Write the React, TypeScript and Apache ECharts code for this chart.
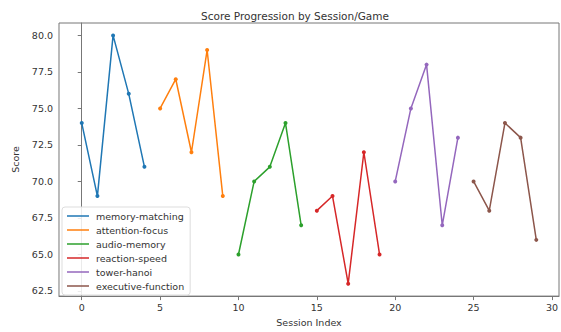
import React, { useEffect, useRef } from "react";
import * as echarts from "echarts";

const seriesNames = [
  "memory-matching",
  "attention-focus",
  "audio-memory",
  "reaction-speed",
  "tower-hanoi",
  "executive-function",
];
const sessionIdx = [
  [0, 1, 2, 3, 4],
  [5, 6, 7, 8, 9],
  [10, 11, 12, 13, 14],
  [15, 16, 17, 18, 19],
  [20, 21, 22, 23, 24],
  [25, 26, 27, 28, 29],
];
const scores = [
  [74, 69, 80, 76, 71],
  [75, 77, 72, 79, 69],
  [65, 70, 71, 74, 67],
  [68, 69, 63, 72, 65],
  [70, 75, 78, 67, 73],
  [70, 68, 74, 73, 66],
];
const colors = ["#1f77b4", "#ff7f0e", "#2ca02c", "#d62728", "#9467bd", "#8c564b"];
const xTicks = [0, 5, 10, 15, 20, 25, 30];
const yTicks = [62.5, 65, 67.5, 70, 72.5, 75, 77.5, 80];

export default function App() {
  const ref = useRef<HTMLDivElement>(null);
  useEffect(() => {
    document.body.style.margin = "0";
    const chart = echarts.init(ref.current!, null, { renderer: "svg" });
    const font = "DejaVu Sans";
    const spine = "#777";
    const axisCommon = {
      axisLine: { show: true, lineStyle: { color: spine, width: 1 } },
      axisTick: { show: true, inside: false, length: 4, lineStyle: { color: spine } },
      splitLine: { show: false },
    };
    chart.setOption({
      animation: false,
      backgroundColor: "#fff",
      title: {
        text: "Score Progression by Session/Game",
        left: 290,
        textAlign: "center",
        top: 5,
        textStyle: { fontFamily: font, fontSize: 10.5, fontWeight: "normal", color: "#333" },
      },
      grid: {
        left: 59,
        top: 23,
        right: -2,
        bottom: 29,
        containLabel: false,
        show: true,
        borderColor: spine,
        borderWidth: 1,
        backgroundColor: "transparent",
      },
      xAxis: {
        type: "value",
        min: -1.45,
        max: 30.45,
        name: "Session Index",
        nameLocation: "middle",
        nameGap: 20,
        nameTextStyle: { fontFamily: font, fontSize: 9.5, color: "#333" },
        ...axisCommon,
        axisTick: { ...axisCommon.axisTick, customValues: xTicks },
        axisLabel: { customValues: xTicks, fontFamily: font, fontSize: 9.5, color: "#333", margin: 6 },
      },
      yAxis: {
        type: "value",
        min: 62.15,
        max: 80.85,
        name: "Score",
        nameLocation: "middle",
        nameGap: 30,
        nameTextStyle: { fontFamily: font, fontSize: 9.5, color: "#333" },
        ...axisCommon,
        axisTick: { ...axisCommon.axisTick, customValues: yTicks },
        axisLabel: {
          customValues: yTicks,
          fontFamily: font,
          fontSize: 9.5,
          color: "#333",
          margin: 6,
          formatter: (v: number) => v.toFixed(1),
        },
      },
      legend: {
        orient: "vertical",
        left: 62,
        top: 207,
        icon: "rect",
        itemWidth: 22,
        itemHeight: 1.5,
        itemGap: 2,
        padding: [3, 6, 3, 5],
        backgroundColor: "rgba(255,255,255,0.85)",
        borderColor: "#ddd",
        borderWidth: 1,
        borderRadius: 3,
        textStyle: { fontFamily: font, fontSize: 9.5, color: "#333", lineHeight: 12, padding: [0, 0, 0, 2] },
        data: seriesNames,
      },
      series: seriesNames.map((name, i) => ({
        name,
        type: "line",
        data: sessionIdx[i].map((x, j) => [x, scores[i][j]]),
        symbol: "circle",
        symbolSize: 4,
        color: colors[i],
        lineStyle: { width: 1.5, color: colors[i] },
        itemStyle: { color: colors[i] },
      })),
    });
    return () => chart.dispose();
  }, []);
  return <div ref={ref} style={{ width: 561, height: 332 }} />;
}
